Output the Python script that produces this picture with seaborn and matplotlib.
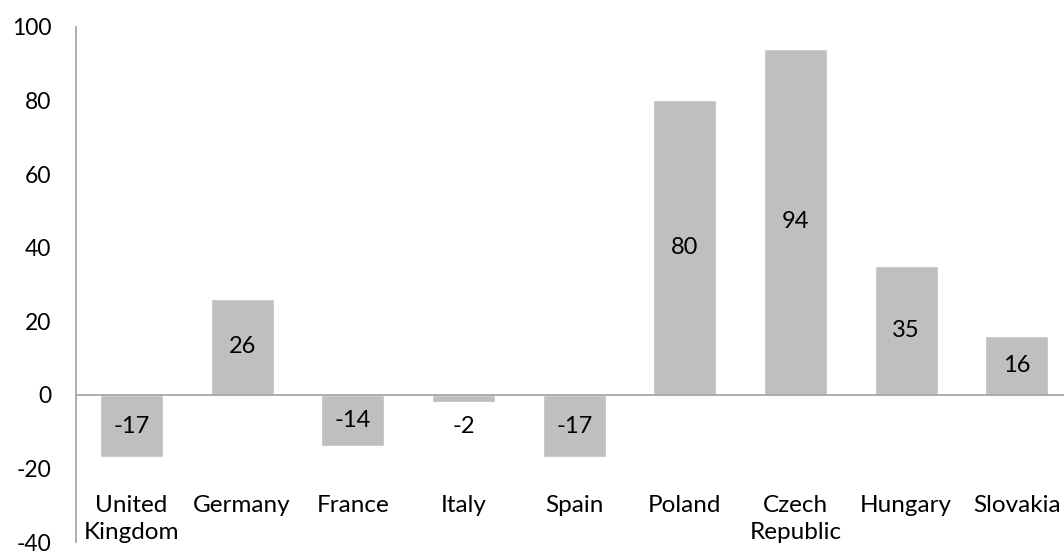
import pandas as pd
import matplotlib.pyplot as plt
import seaborn as sns

# data
countries = ['United\nKingdom', 'Germany', 'France', 'Italy', 'Spain',
             'Poland', 'Czech\nRepublic', 'Hungary', 'Slovakia']
values = [-17, 26, -14, -2, -17, 80, 94, 35, 16]
y_ticks = [-40, -20, 0, 20, 40, 60, 80, 100]

sns.set_theme(style="white")
plt.rcParams['font.family'] = ['Lato', 'DejaVu Sans']
plt.rcParams['axes.unicode_minus'] = False

df = pd.DataFrame({'country': countries, 'value': values})

fig = plt.figure(figsize=(10.64, 5.51), dpi=100)
ax = fig.add_axes([0.0716, 0.0163, 0.936, 0.935])

sns.barplot(data=df, x='country', y='value', color='#bfbfbf', saturation=1,
            width=0.57, ax=ax)

ax.axhline(0, color='#a0a0a0', linewidth=1.2, zorder=3)
ax.set_ylim(-40, 100)
ax.set_yticks(y_ticks)
ax.set_xlabel('')
ax.set_ylabel('')

for s in ['top', 'right', 'bottom']:
    ax.spines[s].set_visible(False)
ax.spines['left'].set_color('#a0a0a0')
ax.spines['left'].set_linewidth(1.2)

ax.tick_params(axis='y', length=0, pad=18, labelsize=16.5, labelcolor='black')
ax.tick_params(axis='x', length=0, pad=-33.5, labelsize=17.5, labelcolor='black')
for lbl in ax.get_xticklabels():
    lbl.set_verticalalignment('top')
    lbl.set_linespacing(1.35)

# value labels centred in the bars (Excel style)
for i, v in enumerate(values):
    y = v / 2 if abs(v) > 10 else -8.5
    ax.text(i, y, str(v), ha='center', va='center', fontsize=17, color='black')

fig.savefig('out.png', dpi=100)
plt.close(fig)
